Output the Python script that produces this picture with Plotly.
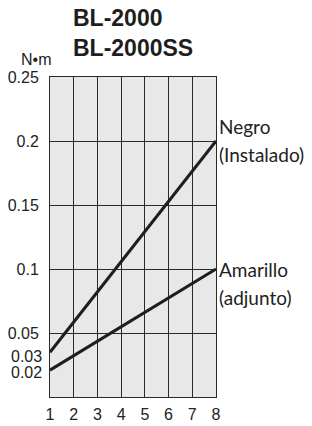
import plotly.graph_objects as go

pressure = [1, 8]
negro = [0.035, 0.2]
amarillo = [0.021, 0.1]
x_ticks = [1, 2, 3, 4, 5, 6, 7, 8]
y_grid = [0.05, 0.1, 0.15, 0.2, 0.25]
y_grid_text = ["0.05", "0.1", "0.15", "0.2", "0.25"]
y_extra = [0.02, 0.03]
y_extra_text = ["0.02", "0.03"]
title_lines = ["BL-2000", "BL-2000SS"]
unit = "N•m"
negro_label = ["Negro", "(Instalado)"]
amarillo_label = ["Amarillo", "(adjunto)"]

LINE = "#1e1e1e"
GRID = "#2a2a2a"
TICKFONT = dict(family="Liberation Sans, Arial", size=16, color="#222")
LABELFONT = dict(family="Lato", size=19, color="#222")

fig = go.Figure()
for ys in (negro, amarillo):
    fig.add_trace(go.Scatter(x=pressure, y=ys, mode="lines",
                             line=dict(color=LINE, width=3),
                             cliponaxis=False, showlegend=False, hoverinfo="skip"))

for lbl, ys, up, down in ((negro_label, negro, 15, -13), (amarillo_label, amarillo, 0, -28)):
    fig.add_annotation(x=pressure[-1], y=ys[-1], xref="x", yref="y",
                       text=lbl[0], showarrow=False, xanchor="left", yanchor="middle",
                       xshift=1, yshift=up, font=LABELFONT)
    fig.add_annotation(x=pressure[-1], y=ys[-1], xref="x", yref="y",
                       text=lbl[1], showarrow=False, xanchor="left", yanchor="middle",
                       xshift=1, yshift=down, font=LABELFONT)

# extra y labels (0.03 / 0.02) placed at their values, nudged apart as in the reference
for val, txt, dy in zip(y_extra, y_extra_text, (-1, 2)):
    fig.add_annotation(x=0, xref="paper", y=val, yref="y", text=txt, showarrow=False,
                       xanchor="right", yanchor="middle", xshift=-7, yshift=dy,
                       font=TICKFONT, borderpad=0)

fig.add_annotation(text="<br>".join(title_lines), x=0.0, xref="paper", y=1.0, yref="paper",
                   xanchor="left", yanchor="bottom", align="left", showarrow=False,
                   xshift=21, yshift=14,
                   font=dict(family="Liberation Sans, Arial", size=23, color="#1e1e1e", weight="bold"))
fig.add_annotation(text=unit, x=0.0, xref="paper", y=1.0, yref="paper",
                   xanchor="right", yanchor="bottom", showarrow=False,
                   xshift=3, yshift=7,
                   font=dict(family="Liberation Sans, Arial", size=16, color="#222"))

fig.update_layout(
    width=312, height=426,
    margin=dict(l=50, r=96, t=77, b=29),
    paper_bgcolor="white", plot_bgcolor="#e8e8e8",
    xaxis=dict(range=[1, 8], tickvals=x_ticks, showgrid=True, gridcolor=GRID, gridwidth=1,
               showline=True, linecolor=GRID, linewidth=1, mirror=True, zeroline=False,
               tickfont=dict(family="Liberation Sans, Arial", size=16, color="#222"),
               ticks="", ticklabelstandoff=3, automargin=False),
    yaxis=dict(range=[0, 0.25], tickvals=y_grid, ticktext=y_grid_text, showgrid=True,
               gridcolor=GRID, gridwidth=1, showline=True, linecolor=GRID, linewidth=1,
               mirror=True, zeroline=False, tickfont=TICKFONT, ticks="", ticklabelstandoff=7,
               automargin=False),
)

fig.write_html("out.html", config={"displayModeBar": False},
               post_script="document.body.style.margin='0';document.body.style.padding='0';")
